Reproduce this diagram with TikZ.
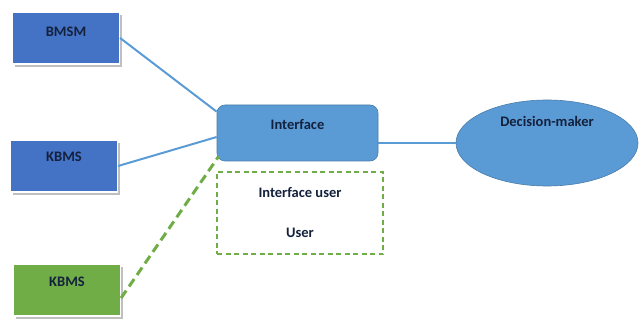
\documentclass[tikz,border=0pt]{standalone}
\usepackage{fontspec}
\setmainfont{Carlito}
\usetikzlibrary{shapes.geometric,shadows}
\definecolor{boxblue}{HTML}{4472C4}
\definecolor{lightblue}{HTML}{5B9BD5}
\definecolor{boxgreen}{HTML}{70AD47}
\definecolor{txt}{HTML}{14213D}
\begin{document}
\begin{tikzpicture}[x=1pt,y=-1pt,
  lbl/.style={font=\bfseries\fontsize{14.5}{17}\selectfont, text=txt},
  srcbox/.style={lbl, rectangle, draw=white, line width=1.2pt,
     minimum width=107pt, minimum height=52pt, text height=10pt,
     drop shadow={shadow xshift=2pt, shadow yshift=-3pt, fill=black!25, opacity=1}},
  conn/.style={draw=lightblue, line width=2pt},
  gconn/.style={draw=boxgreen, line width=3pt, dash pattern=on 9pt off 5pt}]
\useasboundingbox (0,0) rectangle (639,323);
\node[srcbox, fill=boxblue, text depth=12pt] (bmsm) at (66,38) {BMSM};
\node[srcbox, fill=boxblue, text depth=19pt] (kbmsa) at (64,166) {KBMS};
\node[srcbox, fill=boxgreen, text depth=18pt] (kbmsb) at (67,290) {KBMS};
\node[lbl, rectangle, rounded corners=8pt, fill=lightblue, draw=lightblue!80!black, line width=0.6pt,
  minimum width=161pt, minimum height=56pt, text height=10pt, text depth=16pt] (iface) at (297.5,133) {Interface};
\node[lbl, rectangle, draw=boxgreen, line width=1.4pt, dash pattern=on 5pt off 3.5pt,
  minimum width=166pt, minimum height=82pt, align=center,
  font=\bfseries\fontsize{14.5}{40}\selectfont] (iuser) at (300,213) {Interface user\\User};
\node[lbl, ellipse, fill=lightblue, draw=lightblue!80!black, line width=0.6pt,
  minimum width=182pt, minimum height=86pt, text height=10pt, text depth=42pt] (dm) at (547,143) {Decision-maker};
\draw[conn] (bmsm.east) -- ([yshift=-7pt]iface.north west);
\draw[conn] (kbmsa.east) -- ([yshift=-4pt]iface.west);
\draw[gconn] ([yshift=-8pt]kbmsb.east) -- ([xshift=2pt,yshift=5pt]iface.south west);
\draw[conn] (iface.east |- dm.west) -- (dm.west);
\end{tikzpicture}
\end{document}
